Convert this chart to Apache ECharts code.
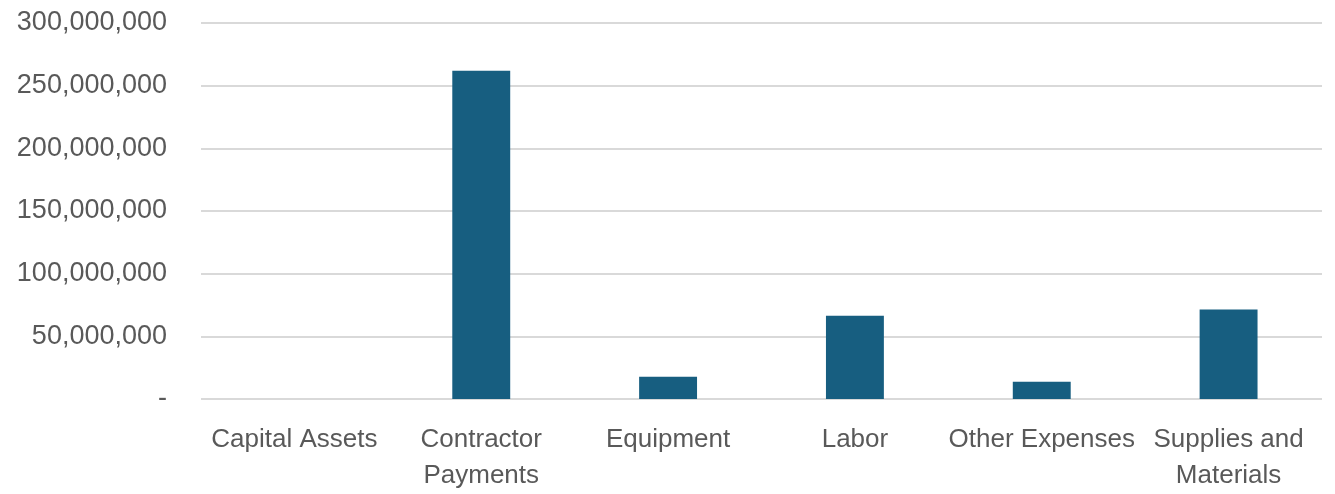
<!DOCTYPE html>
<html>
<head>
<meta charset="utf-8">
<script src="https://cdn.jsdelivr.net/npm/echarts@6/dist/echarts.min.js"></script>
<style>html,body{margin:0;padding:0;background:#fff;overflow:hidden}#c{width:1335px;height:494px}</style>
</head>
<body>
<div id="c"></div>
<script>
const categories = ['Capital Assets', 'Contractor\nPayments', 'Equipment', 'Labor', 'Other Expenses', 'Supplies and\nMaterials'];
const values = [0, 262000000, 17700000, 66500000, 13800000, 71400000];
const yTicks = { min: 0, max: 300000000, interval: 50000000 };

const chart = echarts.init(document.getElementById('c'));
chart.setOption({
  animation: false,
  grid: { left: 201, right: 13, top: 23, height: 381, containLabel: false },
  xAxis: {
    type: 'category',
    data: categories,
    axisLine: { show: false },
    axisTick: { show: false },
    axisLabel: {
      color: '#595959', fontFamily: 'Liberation Sans, Arial, sans-serif', fontSize: 26,
      margin: 23, lineHeight: 36, interval: 0
    }
  },
  yAxis: {
    type: 'value',
    min: yTicks.min, max: yTicks.max, interval: yTicks.interval,
    axisLine: { show: false },
    axisTick: { show: false },
    splitLine: { lineStyle: { color: '#d9d9d9', width: 2 } },
    axisLabel: {
      color: '#595959', fontFamily: 'Liberation Sans, Arial, sans-serif', fontSize: 27,
      margin: 34,
      formatter: v => v === 0 ? '-' : v.toLocaleString('en-US')
    }
  },
  series: [{
    type: 'bar',
    data: values,
    barWidth: '31%',
    itemStyle: { color: '#175e80' }
  }]
});
</script>
</body>
</html>
